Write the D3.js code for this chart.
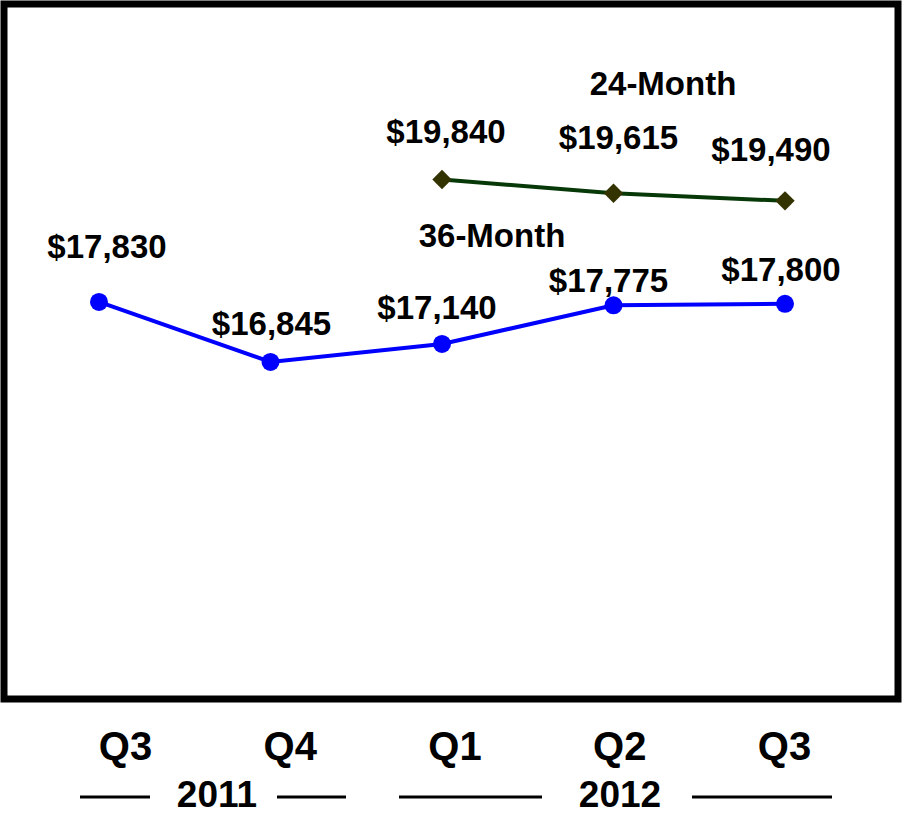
<!DOCTYPE html>
<html><head><meta charset="utf-8">
<script src="https://cdn.jsdelivr.net/npm/d3@7"></script>
<style>html,body{margin:0;padding:0;background:#fff}</style>
</head><body>
<script>
const quarters = ["Q3 2011","Q4 2011","Q1 2012","Q2 2012","Q3 2012"];
const quarterLabels = ["Q3","Q4","Q1","Q2","Q3"];
const years = ["2011","2012"];
const series36 = [17830, 16845, 17140, 17775, 17800];
const series24 = [null, null, 19840, 19615, 19490];
const seriesNames = ["36-Month","24-Month"];

const W = 905, H = 817;
const svg = d3.select("body").append("svg").attr("width", W).attr("height", H);
const font = "'Liberation Sans', Arial, Helvetica, sans-serif";

const x = d3.scalePoint().domain(quarters).range([99, 785]);
const y = d3.scaleLinear().domain([12000, 22000]).range([657, 48]);

// frame
svg.append("rect").attr("x", 4).attr("y", 4).attr("width", 894).attr("height", 695)
  .attr("fill", "none").attr("stroke", "#000").attr("stroke-width", 7);

const line = d3.line().defined(d => d.v != null).x(d => x(d.q)).y(d => y(d.v));
const d36 = quarters.map((q,i) => ({q, v: series36[i]}));
const d24 = quarters.map((q,i) => ({q, v: series24[i]}));

svg.append("path").datum(d36).attr("d", line).attr("fill","none").attr("stroke","#0000ff").attr("stroke-width",4);
svg.append("path").datum(d24).attr("d", line).attr("fill","none").attr("stroke","#073807").attr("stroke-width",4);

svg.selectAll(".c36").data(d36).join("circle").attr("cx", d => x(d.q)).attr("cy", d => y(d.v)).attr("r", 9).attr("fill","#0000ff");
const diamond = d3.symbol().type(d3.symbolDiamond2).size(240);
svg.selectAll(".d24").data(d24.filter(d => d.v != null)).join("path")
  .attr("d", diamond).attr("transform", d => `translate(${x(d.q)},${y(d.v)})`).attr("fill","#333300");

const fmt = d => "$" + d3.format(",")(d);
// value label offsets (dx, dy) relative to point
const off36 = [[8,-44],[1,-27],[-5,-25],[-5,-13],[-4,-23]];
const off24 = [null,null,[4,-37],[5,-44],[-14,-40]];
const lbl = svg.append("g").attr("font-family", font).attr("font-weight","bold").attr("font-size", 33).attr("text-anchor","middle").attr("fill","#000");
d36.forEach((d,i) => lbl.append("text").attr("x", x(d.q)+off36[i][0]).attr("y", y(d.v)+off36[i][1]).text(fmt(d.v)));
d24.forEach((d,i) => { if (d.v != null) lbl.append("text").attr("x", x(d.q)+off24[i][0]).attr("y", y(d.v)+off24[i][1]).text(fmt(d.v)); });
lbl.append("text").attr("x", 492).attr("y", 247).text(seriesNames[0]);
lbl.append("text").attr("x", 663).attr("y", 95).text(seriesNames[1]);

// x axis labels
const xl = d3.scalePoint().domain(quarters).range([125, 784]);
const ax = svg.append("g").attr("transform","translate(0,760)")
  .call(d3.axisBottom(xl).tickSize(0).tickFormat((d,i) => quarterLabels[i]));
ax.select(".domain").remove();
ax.selectAll("text").attr("dy", 0).attr("y", 0).attr("font-family", font).attr("font-weight","bold").attr("font-size", 40).attr("fill","#000");

// year row
const yearPos = [217, 620];
const yr = svg.append("g").attr("font-family", font).attr("font-weight","bold").attr("font-size", 37).attr("text-anchor","middle");
years.forEach((t,i) => yr.append("text").attr("x", yearPos[i]).attr("y", 807).text(t));
const segs = [[80,150],[277,346],[399,542],[692,832]];
svg.selectAll(".seg").data(segs).join("line").attr("x1", d => d[0]).attr("x2", d => d[1])
  .attr("y1", 797).attr("y2", 797).attr("stroke","#000").attr("stroke-width",3);
</script>
</body></html>
